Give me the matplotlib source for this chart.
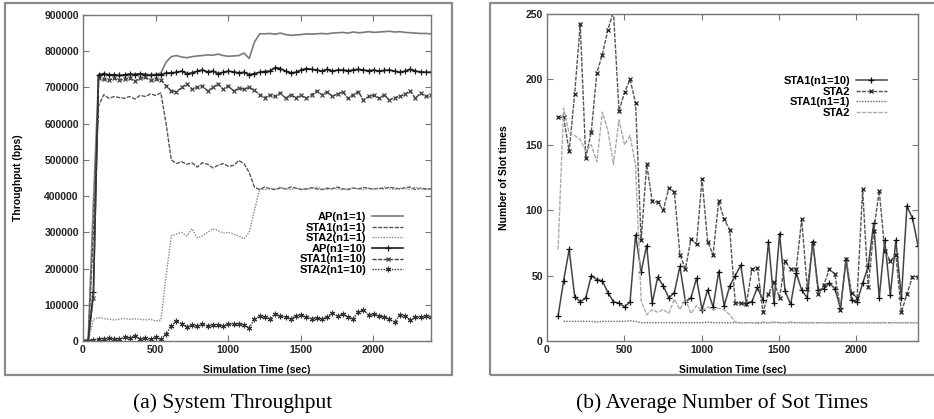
import numpy as np
import matplotlib
matplotlib.use("Agg")
import matplotlib.pyplot as plt
from matplotlib.patches import Rectangle

# ---------------- data: (a) System Throughput ----------------
t_end = 2400
ap_n1_1 = [0, 2000, 380000, 730000, 735000, 733000, 735000, 732000, 733000, 735000,
           737000, 738000, 737000, 735000, 736000, 740000, 770000, 785000, 788000, 784000,
           782000, 785000, 787000, 788000, 790000, 789000, 792000, 788000, 786000, 787000,
           788000, 795000, 780000, 825000, 848000, 848000, 849000, 847000, 850000, 846000,
           844000, 845000, 846000, 848000, 847000, 848000, 849000, 848000, 850000, 851000,
           852000, 850000, 853000, 851000, 852000, 854000, 852000, 853000, 854000, 855000,
           853000, 854000, 852000, 851000, 850000, 849000, 849000, 848000]
sta1_n1_1 = [0, 0, 300000, 650000, 680000, 670000, 675000, 672000, 670000, 675000,
             668000, 678000, 675000, 682000, 678000, 685000, 600000, 500000, 490000, 495000,
             488000, 492000, 480000, 492000, 488000, 478000, 485000, 490000, 482000, 485000,
             498000, 490000, 465000, 425000, 418000, 425000, 420000, 418000, 422000, 420000,
             425000, 422000, 418000, 420000, 423000, 420000, 418000, 422000, 420000, 425000,
             420000, 418000, 422000, 420000, 424000, 421000, 419000, 422000, 420000, 425000,
             422000, 420000, 423000, 425000, 418000, 422000, 420000, 420000]
sta2_n1_1 = [0, 0, 60000, 65000, 62000, 60000, 58000, 60000, 62000, 60000,
             61000, 60000, 58000, 60000, 55000, 58000, 180000, 290000, 295000, 300000,
             290000, 310000, 285000, 290000, 300000, 310000, 305000, 298000, 300000, 295000,
             290000, 282000, 300000, 360000, 420000, 418000, 422000, 420000, 425000, 420000,
             418000, 422000, 420000, 418000, 421000, 425000, 420000, 418000, 422000, 420000,
             418000, 420000, 423000, 420000, 418000, 422000, 421000, 420000, 425000, 420000,
             418000, 422000, 420000, 418000, 425000, 420000, 418000, 420000]
ap_n1_10 = [0, 0, 135000, 735000, 738000, 735000, 735000, 733000, 735000, 737000,
            735000, 737000, 735000, 733000, 735000, 735000, 740000, 740000, 742000, 745000,
            738000, 740000, 745000, 748000, 743000, 745000, 738000, 742000, 745000, 743000,
            740000, 742000, 735000, 738000, 742000, 744000, 745000, 755000, 752000, 745000,
            740000, 742000, 748000, 752000, 750000, 748000, 745000, 750000, 745000, 748000,
            748000, 746000, 748000, 750000, 748000, 746000, 748000, 745000, 747000, 748000,
            745000, 742000, 745000, 750000, 745000, 743000, 742000, 742000]
sta1_n1_10 = [0, 0, 120000, 725000, 722000, 720000, 725000, 720000, 722000, 725000,
              718000, 725000, 728000, 720000, 722000, 720000, 705000, 690000, 688000, 700000,
              710000, 695000, 700000, 705000, 690000, 700000, 710000, 695000, 705000, 690000,
              698000, 695000, 700000, 692000, 680000, 672000, 680000, 675000, 685000, 670000,
              680000, 672000, 678000, 670000, 680000, 690000, 680000, 688000, 675000, 682000,
              688000, 670000, 680000, 688000, 665000, 675000, 678000, 670000, 680000, 665000,
              672000, 675000, 682000, 690000, 670000, 685000, 675000, 678000]
sta2_n1_10 = [0, 0, 3000, 5000, 6000, 8000, 5000, 6000, 10000, 8000,
              14000, 6000, 7000, 5000, 10000, 5000, 20000, 42000, 55000, 48000,
              40000, 45000, 42000, 46000, 42000, 45000, 44000, 42000, 48000, 46000,
              47000, 45000, 36000, 60000, 68000, 65000, 62000, 75000, 68000, 66000,
              62000, 70000, 72000, 65000, 62000, 64000, 60000, 66000, 78000, 68000,
              75000, 66000, 62000, 80000, 85000, 72000, 74000, 68000, 66000, 60000,
              52000, 72000, 70000, 58000, 66000, 65000, 68000, 67000]

# ---------------- data: (b) Average Number of Slot Times ----------------
b_sta1_n1_10 = [19, 46, 70, 34, 30, 33, 50, 47, 46, 37,
                30, 29, 26, 30, 81, 53, 73, 29, 49, 42,
                33, 37, 57, 30, 33, 48, 24, 39, 26, 53,
                27, 42, 50, 58, 29, 30, 41, 31, 76, 29,
                82, 38, 28, 52, 39, 33, 76, 39, 40, 44,
                40, 25, 62, 31, 30, 44, 57, 90, 33, 77,
                35, 77, 33, 103, 94, 73]
b_sta2_n1_10 = [171, 171, 145, 189, 242, 140, 160, 205, 219, 238,
                252, 176, 190, 200, 182, 77, 135, 107, 106, 100,
                117, 114, 66, 55, 78, 74, 124, 76, 66, 107,
                93, 85, 29, 29, 28, 55, 56, 22, 36, 45,
                33, 61, 55, 55, 93, 40, 75, 36, 43, 55,
                51, 24, 63, 37, 33, 116, 41, 84, 115, 69,
                61, 66, 22, 36, 49, 49]
b_sta1_n1_1 = [np.nan, 15, 15, 15, 15, 15, 15, 14.5, 15, 15,
               15, 15, 15, 15.5, 15, 14, 14, 14, 14, 14,
               14, 14, 14, 14, 14, 14, 14, 14.5, 14, 14,
               14, 14, 14, 14, 14, 14, 13.5, 14, 14, 14.5,
               14, 14, 14, 14, 14, 14, 14, 14, 14, 14,
               14, 14, 14, 14, 14, 14, 14, 14, 14, 14,
               14, 14, 14, 14, 14, 14]
b_sta2_n1_1 = [70, 178, 159, 157, 154, 145, 150, 137, 175, 161,
               135, 169, 150, 157, 134, 31, 20, 24, 22, 24,
               21, 32, 24, 32, 21, 27, 23, 26, 24, 25,
               24, 20, 14.5, 14, 14, 14, 14, 14.5, 14, 14,
               14, 14, 14.5, 14, 14, 14, 14, 14, 14, 14,
               14, 14, 14, 14, 14, 14, 14, 14, 14, 14,
               14, 14, 14, 14, 14, 14]

t_a = np.linspace(0, t_end, len(ap_n1_1))
t_b = t_a[2:2 + len(b_sta1_n1_10)]

# ---------------- figure ----------------
plt.rcParams['font.family'] = ['Liberation Sans', 'DejaVu Sans']
fig = plt.figure(figsize=(9.34, 4.19), dpi=100)
W, H = 934, 419

def fx(px):
    return px / W

def fy(py):
    return 1 - py / H

# outer frames
for (x0, y0, x1, y1) in [(5, 3, 452, 375), (490, 3, 945, 375)]:
    fig.patches.append(Rectangle((fx(x0), fy(y1)), fx(x1 - x0), (y1 - y0) / H,
                                 transform=fig.transFigure, fill=False,
                                 edgecolor='#8a8a8a', linewidth=1.6, clip_on=False))

axa = fig.add_axes([fx(83), fy(341), fx(431 - 83), (341 - 15) / H])
axb = fig.add_axes([fx(547), fy(341), fx(918 - 547), (341 - 14) / H])

def style(ax):
    for s in ax.spines.values():
        s.set_color('#777777')
        s.set_linewidth(1.0)
    ax.tick_params(direction='in', length=4, width=0.8, color='#777777',
                   top=True, right=True, labelsize=7.5, pad=3)
    for lab in ax.get_xticklabels() + ax.get_yticklabels():
        lab.set_fontweight('bold')
        lab.set_color('#222222')

def plot(ax, t, v, **kw):
    ax.plot(t[:len(v)], v, **kw)

# (a)
plot(axa, t_a, ap_n1_1, color='#7a7a7a', lw=1.2, ls='-', label='AP(n1=1)')
plot(axa, t_a, sta1_n1_1, color='#555555', lw=1.0, ls=(0, (3, 1)), label='STA1(n1=1)')
plot(axa, t_a, sta2_n1_1, color='#8a8a8a', lw=1.0, ls=(0, (1, 1)), label='STA2(n1=1)')
plot(axa, t_a, ap_n1_10, color='#1a1a1a', lw=1.2, ls='-', marker='+', ms=4,
     mew=0.9, label='AP(n1=10)')
plot(axa, t_a, sta1_n1_10, color='#444444', lw=1.0, ls=(0, (3, 1)), marker='x', ms=3.5,
     mew=0.9, label='STA1(n1=10)')
plot(axa, t_a, sta2_n1_10, color='#333333', lw=1.0, ls=(0, (1, 1)), marker=(6, 2, 0), ms=4,
     mew=0.8, label='STA2(n1=10)')
axa.set_xlim(0, t_end)
axa.set_ylim(0, 900000)
axa.set_xticks([0, 500, 1000, 1500, 2000])
axa.set_yticks(np.arange(0, 900001, 100000))
axa.set_xlabel('Simulation Time (sec)', fontsize=7.5, fontweight='bold', labelpad=7)
axa.set_ylabel('Throughput (bps)', fontsize=7.5, fontweight='bold', labelpad=15)
style(axa)
axa.legend(loc='upper right', bbox_to_anchor=(0.92, 0.395), frameon=False,
           markerfirst=False, handlelength=2.8, handletextpad=0.5,
           labelspacing=0.05, borderpad=0, borderaxespad=0,
           prop={'weight': 'bold', 'size': 8})

# (b)
plot(axb, t_b, b_sta1_n1_10, color='#444444', lw=1.1, ls='-', marker='+', ms=4,
     mew=0.9, mec='#111111', label='STA1(n1=10)')
plot(axb, t_b, b_sta2_n1_10, color='#555555', lw=1.0, ls=(0, (3, 1)), marker='x', ms=3.5,
     mew=0.9, mec='#222222', label='STA2')
plot(axb, t_b, b_sta1_n1_1, color='#666666', lw=1.0, ls=(0, (1, 1)), label='STA1(n1=1)')
plot(axb, t_b, b_sta2_n1_1, color='#aaaaaa', lw=1.0, ls=(0, (3, 1)), label='STA2')
axb.set_xlim(0, t_end)
axb.set_ylim(0, 250)
axb.set_xticks([0, 500, 1000, 1500, 2000])
axb.set_yticks([0, 50, 100, 150, 200, 250])
axb.set_xlabel('Simulation Time (sec)', fontsize=7.5, fontweight='bold', labelpad=7)
axb.set_ylabel('Number of Slot times', fontsize=7.5, fontweight='bold', labelpad=12)
style(axb)
axb.legend(loc='upper right', bbox_to_anchor=(0.916, 0.81), frameon=False,
           markerfirst=False, handlelength=2.8, handletextpad=0.5,
           labelspacing=0.05, borderpad=0, borderaxespad=0,
           prop={'weight': 'bold', 'size': 8})

# captions
fig.text(fx(233), fy(403), '(a) System Throughput', ha='center', va='center',
         fontsize=15.5, family=['Liberation Serif', 'DejaVu Serif'])
fig.text(fx(722), fy(403), '(b) Average Number of Sot Times', ha='center', va='center',
         fontsize=15.5, family=['Liberation Serif', 'DejaVu Serif'])

fig.savefig('out.png', dpi=100)
